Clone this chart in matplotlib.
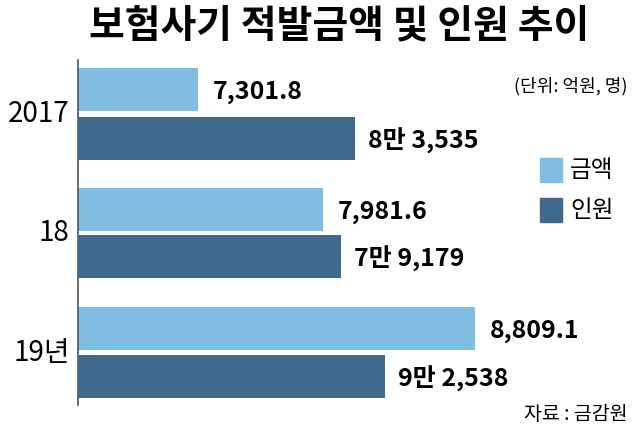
import matplotlib.pyplot as plt

plt.rcParams['font.family'] = ['Noto Sans CJK KR', 'DejaVu Sans']

YEARS = ["2017", "18", "19년"]
AMOUNT = [7301.8, 7981.6, 8809.1]          # 억원
PEOPLE = [83535, 79179, 92538]             # 명
AMOUNT_LABELS = ["7,301.8", "7,981.6", "8,809.1"]
PEOPLE_LABELS = ["8만 3,535", "7만 9,179", "9만 2,538"]

C_AMT = "#80bde3"
C_PPL = "#3f6a8e"


def main():
    fig = plt.figure(figsize=(6.33, 4.32), dpi=100)
    ax = fig.add_axes([78 / 633, 1 - 405 / 432, 1 - 78 / 633, 345 / 432])
    ax2 = ax.twiny()

    amt_y = [90, 210, 329]
    ppl_y = [139, 257, 377]
    h = 43

    ax.barh(amt_y, AMOUNT, height=h, color=C_AMT, left=0)
    ax2.barh(ppl_y, PEOPLE, height=h, color=C_PPL)
    ax.set_xlim(6649, 9669)
    ax2.set_xlim(0, 167370)
    ax.set_ylim(405, 60)

    for y, v, s in zip(amt_y, AMOUNT, AMOUNT_LABELS):
        ax.text(v + 80, y + 2, s, va="center", ha="left", fontsize=18,
                fontweight="bold")
    for y, v, s in zip(ppl_y, PEOPLE, PEOPLE_LABELS):
        ax2.text(v + 4000, y + 2, s, va="center", ha="left", fontsize=18,
                 fontweight="bold")

    for a in (ax, ax2):
        for sp in ("top", "right", "bottom"):
            a.spines[sp].set_visible(False)
        a.set_xticks([])
    ax2.spines["left"].set_visible(False)
    ax.spines["left"].set_color("#555555")
    ax.spines["left"].set_linewidth(1.2)
    ax.set_yticks([])

    for yr, ya, yp in zip(YEARS, amt_y, ppl_y):
        ax.text(-0.015, (ya + yp) / 2, yr, transform=ax.get_yaxis_transform(),
                ha="right", va="center", fontsize=20)

    fig.text(0.535, 1 - 26 / 432, "보험사기 적발금액 및 인원 추이", ha="center",
             va="center", fontsize=28, fontweight="bold")
    fig.text(628 / 633, 1 - 86 / 432, "(단위: 억원, 명)", ha="right",
             va="center", fontsize=13)
    fig.text(628 / 633, 1 - 414 / 432, "자료 : 금감원", ha="right",
             va="center", fontsize=14)

    # legend
    for i, (lab, c) in enumerate([("금액", C_AMT), ("인원", C_PPL)]):
        yc = 1 - (170 + 40 * i) / 432
        fig.patches.append(plt.Rectangle((540 / 633, yc - 12 / 432), 22 / 633, 24 / 432,
                                         transform=fig.transFigure, color=c))
        fig.text(570 / 633, yc, lab, va="center", ha="left", fontsize=17)

    fig.savefig("out.png", dpi=100)
    plt.close(fig)


if __name__ == "__main__":
    main()
